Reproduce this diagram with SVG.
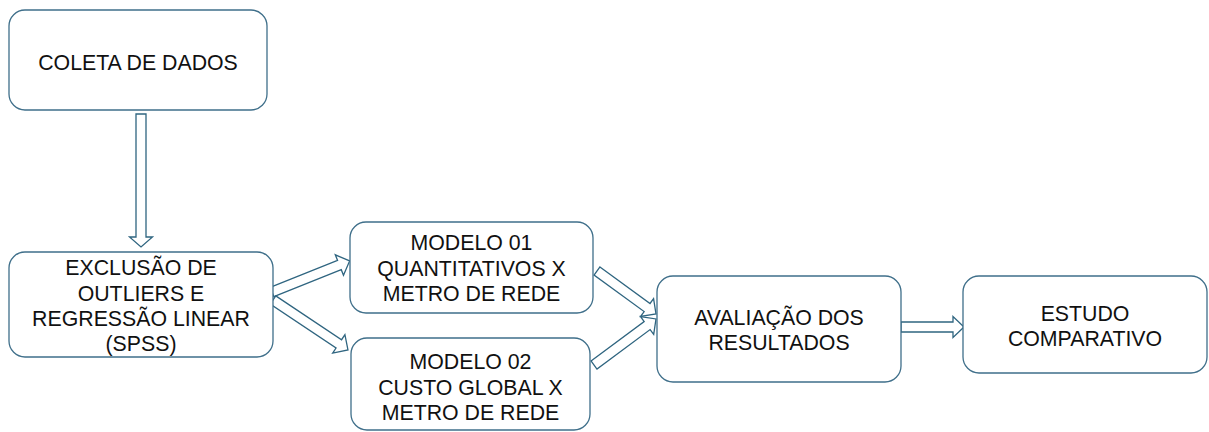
<svg xmlns="http://www.w3.org/2000/svg" width="1209" height="432" viewBox="0 0 1209 432">
<style>
.box{fill:#ffffff;stroke:#3f6f8a;stroke-width:1.3}
.arr{fill:#ffffff;stroke:#2f6580;stroke-width:1.3;stroke-linejoin:miter}
.t{font-family:"Liberation Sans",Arial,sans-serif;font-size:21.3px;fill:#111111;text-anchor:middle}
</style>
<rect width="1209" height="432" fill="#ffffff"/>
<g id="connectors">
<polygon class="arr" transform="translate(141,114) rotate(90)" points="0,-5 123,-5 123,-11.5 133,0 123,11.5 123,5 0,5"/>
<polygon class="arr" transform="translate(272,292) rotate(-21.8)" points="0,-5 72.6,-5 72.6,-11 83.6,0 72.6,11 72.6,5 0,5"/>
<polygon class="arr" transform="translate(273,300) rotate(33.7)" points="0,-5 79.1,-5 79.1,-11 90.1,0 79.1,11 79.1,5 0,5"/>
<polygon class="arr" transform="translate(597,271) rotate(36.1)" points="0,-5 62,-5 62,-11 73,0 62,11 62,5 0,5"/>
<polygon class="arr" transform="translate(594,365) rotate(-36.6)" points="0,-5 66.2,-5 66.2,-11 77.2,0 66.2,11 66.2,5 0,5"/>
<polygon class="arr" transform="translate(901,327)" points="0,-5 52,-5 52,-10.5 63,0 52,10.5 52,5 0,5"/>
</g>
<g id="n1">
<rect class="box" x="9" y="10" width="258" height="100" rx="16"/>
<text class="t" x="138" y="69.5">COLETA DE DADOS</text>
</g>
<g id="n2">
<rect class="box" x="9" y="252" width="264" height="105" rx="16"/>
<text class="t" x="141" y="274.5">EXCLUSÃO DE</text>
<text class="t" x="141" y="300.5">OUTLIERS E</text>
<text class="t" x="141" y="325.5">REGRESSÃO LINEAR</text>
<text class="t" x="141" y="350.5">(SPSS)</text>
</g>
<g id="n3">
<rect class="box" x="350" y="222" width="243" height="91" rx="16"/>
<text class="t" x="471.5" y="249.5">MODELO 01</text>
<text class="t" x="471.5" y="275.5">QUANTITATIVOS X</text>
<text class="t" x="471.5" y="300.5">METRO DE REDE</text>
</g>
<g id="n4">
<rect class="box" x="351" y="338" width="239" height="92" rx="16"/>
<text class="t" x="470.5" y="368.5">MODELO 02</text>
<text class="t" x="470.5" y="394.5">CUSTO GLOBAL X</text>
<text class="t" x="470.5" y="419.5">METRO DE REDE</text>
</g>
<g id="n5">
<rect class="box" x="657" y="276" width="244" height="106" rx="16"/>
<text class="t" x="779" y="324.5">AVALIAÇÃO DOS</text>
<text class="t" x="779" y="349.5">RESULTADOS</text>
</g>
<g id="n6">
<rect class="box" x="963" y="276" width="244" height="97" rx="16"/>
<text class="t" x="1085" y="320.5">ESTUDO</text>
<text class="t" x="1085" y="345.5">COMPARATIVO</text>
</g>
</svg>
